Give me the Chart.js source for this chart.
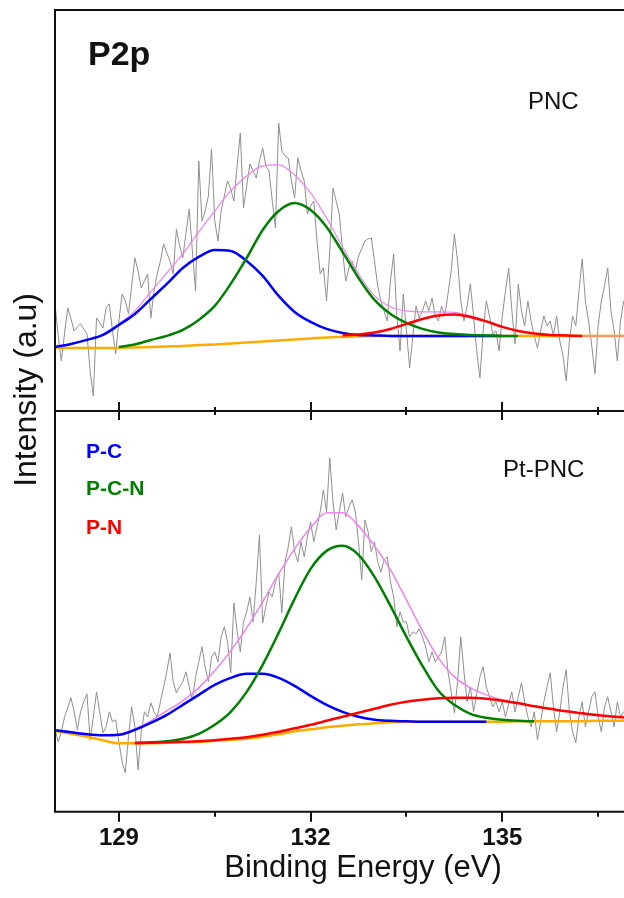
<!DOCTYPE html>
<html>
<head>
<meta charset="utf-8">
<script src="https://cdn.jsdelivr.net/npm/chart.js@4.4.0/dist/chart.umd.min.js"></script>
<style>
  html, body { margin: 0; padding: 0; background: #fff; overflow: hidden; }
  #wrap { width: 672px; height: 898px; }
</style>
</head>
<body>
<div id="wrap"><canvas id="chart" width="672" height="898"></canvas></div>
<script>
// binding energy grid for the fitted curves (eV)
const fitEV = [128, 128.25, 128.5, 128.75, 129, 129.25, 129.5, 129.75, 130, 130.25,
  130.5, 130.75, 131, 131.25, 131.5, 131.75, 132, 132.25, 132.5, 132.75,
  133, 133.25, 133.5, 133.75, 134, 134.25, 134.5, 134.75, 135, 135.25,
  135.5, 135.75, 136, 136.25, 136.5, 136.75, 137, 137.25, 137.5, 137.75];

// binding energy of the raw spectra points (eV)
const rawEV = [
  128.00, 128.05, 128.10, 128.15, 128.20, 128.25, 128.30, 128.35, 128.40, 128.45,
  128.50, 128.55, 128.60, 128.65, 128.70, 128.75, 128.80, 128.85, 128.90, 128.95,
  129.00, 129.05, 129.10, 129.15, 129.20, 129.25, 129.30, 129.35, 129.40, 129.45,
  129.50, 129.55, 129.60, 129.65, 129.70, 129.75, 129.80, 129.85, 129.90, 129.95,
  130.00, 130.05, 130.10, 130.15, 130.20, 130.25, 130.30, 130.35, 130.40, 130.45,
  130.50, 130.55, 130.60, 130.65, 130.70, 130.75, 130.80, 130.85, 130.90, 130.95,
  131.00, 131.05, 131.10, 131.15, 131.20, 131.25, 131.30, 131.35, 131.40, 131.45,
  131.50, 131.55, 131.60, 131.65, 131.70, 131.75, 131.80, 131.85, 131.90, 131.95,
  132.00, 132.05, 132.10, 132.15, 132.20, 132.25, 132.30, 132.35, 132.40, 132.45,
  132.50, 132.55, 132.60, 132.65, 132.70, 132.75, 132.80, 132.85, 132.90, 132.95,
  133.00, 133.05, 133.10, 133.15, 133.20, 133.25, 133.30, 133.35, 133.40, 133.45,
  133.50, 133.55, 133.60, 133.65, 133.70, 133.75, 133.80, 133.85, 133.90, 133.95,
  134.00, 134.05, 134.10, 134.15, 134.20, 134.25, 134.30, 134.35, 134.40, 134.45,
  134.50, 134.55, 134.60, 134.65, 134.70, 134.75, 134.80, 134.85, 134.90, 134.95,
  135.00, 135.05, 135.10, 135.15, 135.20, 135.25, 135.30, 135.35, 135.40, 135.45,
  135.50, 135.55, 135.60, 135.65, 135.70, 135.75, 135.80, 135.85, 135.90, 135.95,
  136.00, 136.05, 136.10, 136.15, 136.20, 136.25, 136.30, 136.35, 136.40, 136.45,
  136.50, 136.55, 136.60, 136.65, 136.70, 136.75, 136.80, 136.85, 136.90, 136.95];

// ---- PNC (top panel), intensity in a.u.
const pncRaw = [
  107, 75, 50, 78, 103, 92, 80, 84, 87, 82,
  77, 40, 15, 93, 88, 83, 103, 107, 80, 57,
  90, 117, 110, 97, 125, 153, 140, 123, 130, 137,
  93, 120, 137, 150, 167, 158, 150, 137, 182, 165,
  153, 178, 202, 160, 120, 250, 190, 200, 215, 262,
  190, 170, 200, 215, 230, 222, 210, 245, 278, 203,
  225, 247, 240, 233, 250, 263, 245, 240, 210, 183,
  288, 260, 255, 253, 230, 213, 253, 240, 230, 197,
  205, 210, 170, 137, 143, 110, 160, 223, 210, 197,
  160, 130, 143, 150, 140, 155, 162, 170, 172, 173,
  150, 125, 110, 100, 90, 130, 157, 95, 60, 117,
  80, 43, 75, 105, 93, 100, 110, 100, 113, 95,
  90, 105, 95, 117, 140, 177, 150, 110, 90, 105,
  127, 95, 60, 33, 80, 110, 95, 77, 80, 60,
  95, 120, 143, 100, 67, 127, 100, 85, 110, 90,
  75, 63, 80, 95, 85, 90, 75, 95, 70, 55,
  30, 70, 95, 85, 120, 152, 110, 90, 65, 37,
  85, 110, 125, 143, 100, 80, 50, 90, 110, 95];
const pncEnvelope = [64, 67, 71, 76, 87, 100, 119, 138, 157, 179,
  200, 220, 235, 245, 246, 236, 218, 193, 164, 137,
  115, 104, 100, 99, 99, 98.5, 95, 90, 84, 80,
  77.5, 76, 75.5, 75, 75, 75, 75, 75, 75, 75];
const pncPC = [64, 67, 71, 76, 86, 97, 112, 127, 143, 154,
  161, 160, 150, 135, 115, 99, 89, 82, 78, 76,
  75.5, 75, 75, 75, 75, 75, 75, 75, 75, null,
  null, null, null, null, null, null, null, null, null, null];
const pncPCN = [null, null, null, null, 64, 66.5, 71, 75, 81, 91,
  105, 127, 153, 181, 200, 208, 201, 184, 159, 133,
  111, 97, 88, 82, 78.5, 77, 76, 75.5, 75, 75,
  null, null, null, null, null, null, null, null, null, null];
const pncPN = [null, null, null, null, null, null, null, null, null, null,
  null, null, null, null, null, null, null, null, 75.5, 76.5,
  78.5, 82, 87, 92, 95.5, 96.5, 94, 89.5, 84, 80,
  77.5, 76, 75.5, 75, null, null, null, null, null, null];
const pncBase = [63, 63, 63, 63, 63, 63.5, 64, 64.5, 65, 66,
  66.5, 67.5, 68.5, 69.5, 70.5, 71.5, 72.5, 73.5, 74, 74.5,
  75, 75, 75, 75, 75, 75, 75, 75, 75, 75,
  75, 75, 75, 75, 75, 75, 75, 75, 75, 75];

// ---- Pt-PNC (bottom panel)
const ptRaw = [
  82, 70, 80, 95, 104, 114, 100, 82, 100, 110,
  118, 72, 95, 120, 100, 79, 85, 100, 90, 92,
  70, 50, 39, 75, 105, 85, 42, 80, 100, 95,
  109, 100, 95, 110, 125, 140, 159, 130, 119, 125,
  130, 140, 125, 112, 135, 150, 165, 145, 130, 155,
  160, 150, 175, 185, 170, 139, 209, 180, 160, 190,
  200, 215, 190, 230, 277, 189, 205, 220, 215, 230,
  239, 199, 250, 265, 285, 260, 250, 270, 255, 275,
  290, 270, 285, 300, 322, 300, 354, 310, 282, 300,
  319, 295, 305, 312, 300, 270, 232, 292, 280, 260,
  270, 250, 240, 252, 255, 230, 215, 185, 200, 190,
  190, 175, 180, 178, 183, 175, 165, 150, 160, 150,
  155, 160, 175, 140, 120, 99, 130, 175, 140, 110,
  125, 100, 118, 135, 145, 125, 115, 105, 110, 100,
  110, 95, 108, 120, 100, 115, 129, 110, 95, 85,
  100, 72, 90, 110, 125, 139, 105, 80, 100, 125,
  142, 100, 80, 69, 95, 110, 85, 100, 115, 120,
  95, 80, 105, 115, 100, 85, 110, 95, 100, 105];
const ptEnvelope = [82, 80, 78, 76.5, 77.5, 83, 91, 101, 111, 124,
  141, 161, 184, 210, 238, 263, 284, 299, 299, 286,
  266, 242, 212, 181, 154, 135, 124, 117, 112, 109,
  105.5, 103, 100.5, 98.5, 97, 95.5, 94.5, 94, 93.5, 93];
const ptPC = [81.5, 79.5, 77.5, 76.5, 77, 82, 89, 97, 107, 117,
  127, 134, 138, 138, 134, 126, 116, 107, 100, 95,
  92, 91, 90.5, 90, 90, 90, 90, 90, null, null,
  null, null, null, null, null, null, null, null, null, null];
const ptPCN = [null, null, null, null, null, 69, 69.5, 70.5, 73, 78,
  87, 100, 120, 147, 179, 213, 243, 261, 266, 257,
  235, 206, 175, 146, 121, 107, 98, 94, 92, 91,
  90.5, null, null, null, null, null, null, null, null, null];
const ptPN = [null, null, null, null, null, 68.5, 69, 69.5, 70, 70.5,
  71.5, 73, 74.5, 77, 80, 83.5, 87, 91, 95, 99,
  103, 107, 110, 112, 113.5, 114, 114, 113, 111, 108.5,
  105.5, 103, 100.5, 98.5, 96.5, 95, 94, 93.5, 93, 92.5];
const ptBase = [80.5, 78, 75, 71.5, 68.5, 68.5, 68.5, 69, 69.5, 70,
  71, 72, 73, 75, 77.5, 80.5, 82.5, 84.5, 86, 87.5,
  88.5, 89.5, 90, 90, 90, 90, 90, 90, 90, 90.5,
  90.5, 90.5, 90.5, 90.5, 91, 91, 91, 91, 91, 91];

// axis ticks
const tickValues = [129, 130.5, 132, 133.5, 135, 136.5];
const tickLabels = ['129', '', '132', '', '135', ''];

const FONT = "'Liberation Sans', Arial, Helvetica, sans-serif";

function pts(xs, ys) {
  return xs.map((x, i) => ({ x: x, y: ys[i] }));
}

function fitSet(label, ys, color, width, axis) {
  return {
    label: label,
    data: pts(fitEV, ys),
    yAxisID: axis,
    borderColor: color,
    borderWidth: width,
    pointRadius: 0,
    cubicInterpolationMode: 'monotone',
    spanGaps: false,
    fill: false
  };
}

function rawSet(label, ys, axis) {
  return {
    label: label,
    data: pts(rawEV, ys),
    yAxisID: axis,
    borderColor: '#8f8f8f',
    borderWidth: 1,
    pointRadius: 0,
    tension: 0,
    fill: false
  };
}

// first dataset is painted last (on top)
const datasets = [
  fitSet('PNC P-N', pncPN, '#ff0000', 2.5, 'yTop'),
  fitSet('PNC P-C-N', pncPCN, '#008000', 2.5, 'yTop'),
  fitSet('PNC P-C', pncPC, '#0000ff', 2.5, 'yTop'),
  fitSet('PNC envelope', pncEnvelope, '#ee82ee', 1.2, 'yTop'),
  fitSet('PNC background', pncBase, '#ffab00', 2.5, 'yTop'),
  rawSet('PNC raw', pncRaw, 'yTop'),
  fitSet('Pt-PNC P-N', ptPN, '#ff0000', 2.5, 'yBot'),
  fitSet('Pt-PNC P-C-N', ptPCN, '#008000', 2.5, 'yBot'),
  fitSet('Pt-PNC P-C', ptPC, '#0000ff', 2.5, 'yBot'),
  fitSet('Pt-PNC envelope', ptEnvelope, '#ee82ee', 1.5, 'yBot'),
  fitSet('Pt-PNC background', ptBase, '#ffab00', 2.5, 'yBot'),
  rawSet('Pt-PNC raw', ptRaw, 'yBot')
];

// frame, divider ticks and in-plot text
const framePlugin = {
  id: 'frame',
  afterDraw(chart) {
    const { ctx, chartArea: a, scales } = chart;
    const x = scales.x;
    const mid = scales.yTop.bottom;
    ctx.save();
    ctx.strokeStyle = '#111';
    ctx.lineWidth = 2;
    ctx.beginPath();
    ctx.rect(a.left, a.top, a.right - a.left, a.bottom - a.top);
    ctx.moveTo(a.left, mid);
    ctx.lineTo(a.right, mid);
    tickValues.forEach((v, i) => {
      const px = Math.round(x.getPixelForValue(v));
      const major = tickLabels[i] !== '';
      const len = major ? 10 : 5;
      ctx.moveTo(px, mid - (major ? 9 : 4));
      ctx.lineTo(px, mid + (major ? 9 : 4));
      ctx.moveTo(px, a.bottom);
      ctx.lineTo(px, a.bottom + len);
    });
    ctx.stroke();

    ctx.fillStyle = '#111';
    ctx.textBaseline = 'alphabetic';
    ctx.textAlign = 'left';
    ctx.font = 'bold 34px ' + FONT;
    ctx.fillText('P2p', a.left + 33, a.top + 55);
    ctx.font = '24px ' + FONT;
    ctx.fillText('PNC', a.left + 473, a.top + 99);
    ctx.fillText('Pt-PNC', a.left + 448, mid + 66);

    ctx.font = 'bold 21px ' + FONT;
    ctx.fillStyle = '#0000ff';
    ctx.fillText('P-C', a.left + 31, mid + 47);
    ctx.fillStyle = '#008000';
    ctx.fillText('P-C-N', a.left + 31, mid + 84);
    ctx.fillStyle = '#ff0000';
    ctx.fillText('P-N', a.left + 31, mid + 123);

    ctx.fillStyle = '#111';
    ctx.font = '32px ' + FONT;
    ctx.translate(27, mid - 21);
    ctx.rotate(-Math.PI / 2);
    ctx.textAlign = 'center';
    ctx.textBaseline = 'middle';
    ctx.fillText('Intensity (a.u)', 0, 0);
    ctx.restore();
  }
};

const hiddenY = (min, max) => ({
  type: 'linear',
  position: 'left',
  stack: 'panels',
  stackWeight: 1,
  min: min,
  max: max,
  ticks: { display: false },
  grid: { display: false, drawTicks: false },
  border: { display: false }
});

new Chart(document.getElementById('chart'), {
  type: 'line',
  data: { datasets: datasets },
  options: {
    responsive: false,
    animation: false,
    devicePixelRatio: 1,
    events: [],
    layout: { padding: { top: 10, left: 55, right: 1, bottom: 0 } },
    plugins: {
      legend: { display: false },
      tooltip: { enabled: false }
    },
    scales: {
      x: {
        type: 'linear',
        min: 128,
        max: 137.64,
        afterBuildTicks: (scale) => {
          scale.ticks = tickValues.map(v => ({ value: v }));
        },
        ticks: {
          autoSkip: false,
          maxRotation: 0,
          padding: 15,
          color: '#111',
          font: { family: FONT, size: 24, weight: 'bold', lineHeight: 1 },
          callback: (v) => tickLabels[tickValues.indexOf(v)]
        },
        grid: { display: false, drawTicks: false },
        border: { display: false },
        title: {
          display: true,
          text: 'Binding Energy (eV)',
          color: '#111',
          font: { family: FONT, size: 31, lineHeight: 0.2 },
          padding: { top: 0, bottom: 26 }
        }
      },
      yBot: hiddenY(0, 401),
      yTop: hiddenY(0, 401)
    }
  },
  plugins: [framePlugin]
});
</script>
</body>
</html>
